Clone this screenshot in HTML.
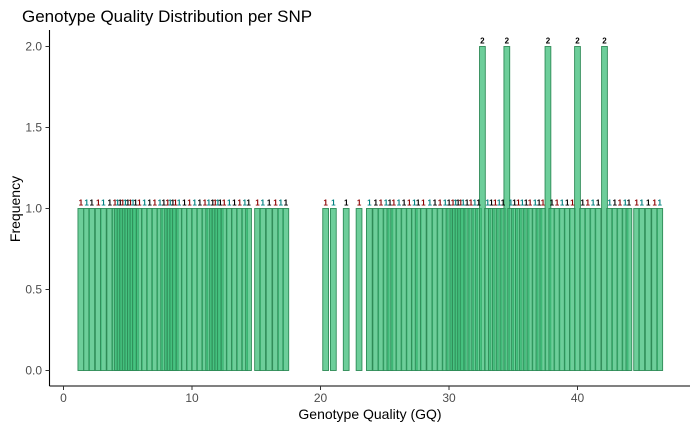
<!DOCTYPE html>
<html><head><meta charset="utf-8"><style>
body{margin:0;background:#fff;font-family:"Liberation Sans",sans-serif}
</style></head><body>
<svg id="chart" width="700" height="432" xmlns="http://www.w3.org/2000/svg" font-family="Liberation Sans, sans-serif">
<text x="22" y="22" font-size="17" fill="#000">Genotype Quality Distribution per SNP</text>
<g id="bars"></g>
<g id="labels"></g>
<line x1="49.5" y1="30" x2="49.5" y2="386" stroke="#000" stroke-width="1.1"/>
<line x1="49.5" y1="386" x2="690" y2="386" stroke="#000" stroke-width="1.1"/>
<g id="axes"></g>
<text x="370" y="419" font-size="14" text-anchor="middle">Genotype Quality (GQ)</text>
<text transform="translate(20,209) rotate(-90)" font-size="14" text-anchor="middle">Frequency</text>
</svg>
<script>
const gqValues=[1.35,1.8,2.2,2.7,3.1,3.6,4.0,4.2,4.4,4.6,4.8,5.0,5.2,5.4,5.6,5.9,6.3,6.7,7.1,7.5,7.8,8.1,8.3,8.5,8.7,9.0,9.4,9.8,10.2,10.6,11.0,11.3,11.6,11.8,12.0,12.2,12.5,12.9,13.3,13.7,14.1,14.4,
15.1,15.5,16.0,16.5,16.9,17.3,
20.4,21.0,22.0,23.0,23.8,24.3,24.7,25.1,25.4,25.7,26.1,26.5,26.9,27.3,27.6,28.0,28.5,28.9,29.3,29.7,30.0,30.3,30.5,30.7,30.9,31.1,31.4,31.7,32.0,32.3,32.6,33.0,33.3,33.6,33.9,34.2,34.5,34.8,35.1,35.4,35.7,36.0,36.3,36.7,37.0,37.3,37.7,38.0,38.4,38.8,39.2,39.6,40.0,40.4,40.8,41.2,41.6,42.1,42.5,42.9,43.3,43.7,44.0,
44.6,45.0,45.5,46.0,46.4];
const gqCounts=gqValues.map(v=>[32.6,34.5,37.7,40.0,42.1].includes(v)?2:1);
const xTicks=[0,10,20,30,40];
const yTicks=[0,0.5,1.0,1.5,2.0];
const yTickLabels=["0.0","0.5","1.0","1.5","2.0"];
const NS="http://www.w3.org/2000/svg";
const X=v=>63.5+v*12.85;
const Y=v=>370.5-v*162;
const bw=0.45;
const bars=document.getElementById('bars'),labels=document.getElementById('labels'),axes=document.getElementById('axes');
const cols=["#8B0000","#008080","#000"];
gqValues.forEach((v,i)=>{
  const r=document.createElementNS(NS,'rect');
  
  
  r.setAttribute('x',X(v-bw/2));r.setAttribute('width',bw*12.85);
  r.setAttribute('y',Y(gqCounts[i]));r.setAttribute('height',Y(0)-Y(gqCounts[i]));
  r.setAttribute('fill','rgba(60,190,120,0.75)');r.setAttribute('stroke','#2E8B57');r.setAttribute('stroke-width','0.9');
  bars.appendChild(r);
  const t=document.createElementNS(NS,'text');
  
  
  t.setAttribute('x',X(v));t.setAttribute('y',Y(gqCounts[i])-3);
  t.setAttribute('font-size','8');t.setAttribute('text-anchor','middle');t.setAttribute('font-weight','bold');
  t.setAttribute('fill',gqCounts[i]==2?'#000':cols[i%3]);
  t.textContent=gqCounts[i];
  labels.appendChild(t);
});
xTicks.forEach(v=>{
  const l=document.createElementNS(NS,'line');
  
  
  l.setAttribute('x1',X(v));l.setAttribute('x2',X(v));l.setAttribute('y1',386);l.setAttribute('y2',390);l.setAttribute('stroke','#333');
  axes.appendChild(l);
  const t=document.createElementNS(NS,'text');
  
  
  t.setAttribute('x',X(v));t.setAttribute('y',402);t.setAttribute('font-size','12');t.setAttribute('text-anchor','middle');t.setAttribute('fill','#4d4d4d');
  t.textContent=v;axes.appendChild(t);
});
yTicks.forEach((v,i)=>{
  const l=document.createElementNS(NS,'line');
  
  
  l.setAttribute('x1',45.5);l.setAttribute('x2',49.5);l.setAttribute('y1',Y(v));l.setAttribute('y2',Y(v));l.setAttribute('stroke','#333');
  axes.appendChild(l);
  const t=document.createElementNS(NS,'text');
  
  
  t.setAttribute('x',42);t.setAttribute('y',Y(v)+4);t.setAttribute('font-size','12');t.setAttribute('text-anchor','end');t.setAttribute('fill','#4d4d4d');
  t.textContent=yTickLabels[i];axes.appendChild(t);
});
</script>
</body></html>
